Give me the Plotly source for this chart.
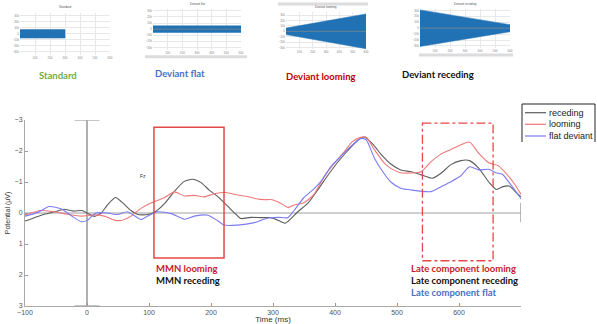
import plotly.graph_objects as go

W, H = 597, 324

# ---------------- main ERP data (Fz) ----------------
t_receding = [-100,-85,-69,-50,-37,-22,-8,0,12,23,33,46,59,71,82,98,110,125,141,157,170,184,197,211,227,240,248,264,280,297,313,320,329,340,356,372,388,404,420,436,447,461,474,490,506,523,539,557,571,587,603,617,632,648,660,671,681,692,700]
v_receding = [0.26,0.15,0.04,-0.05,-0.12,-0.06,-0.08,0,0.11,0,-0.26,-0.5,-0.3,-0.08,0.05,0.05,-0.04,-0.3,-0.7,-1.02,-1.09,-0.98,-0.74,-0.53,-0.22,0.04,0.18,0.14,0.15,0.15,0.28,0.33,0.18,-0.04,-0.31,-0.74,-1.2,-1.63,-2.0,-2.33,-2.45,-2.22,-1.9,-1.58,-1.39,-1.33,-1.23,-1.12,-1.28,-1.56,-1.69,-1.69,-1.44,-1.0,-0.76,-0.85,-0.87,-0.67,-0.52]

t_looming = [-100,-74,-53,-31,-9,12,28,44,55,71,87,103,125,141,157,173,189,205,224,243,259,275,286,299,313,324,334,350,366,382,398,415,428,441,450,464,480,490,506,523,539,555,571,587,603,617,632,648,664,677,689,700]
v_looming = [0.06,-0.08,-0.04,0.04,0.1,0.06,0.1,0.23,0.24,0.1,-0.15,-0.32,-0.5,-0.68,-0.55,-0.57,-0.52,-0.62,-0.66,-0.58,-0.53,-0.45,-0.43,-0.43,-0.31,-0.18,-0.26,-0.33,-0.6,-1.15,-1.58,-1.98,-2.3,-2.44,-2.45,-2.03,-1.6,-1.44,-1.3,-1.29,-1.33,-1.66,-1.9,-2.05,-2.2,-2.29,-1.92,-1.62,-1.52,-1.25,-0.95,-0.6]

t_flat = [-100,-79,-61,-41,-25,-9,1,14,33,49,65,79,87,98,114,136,157,173,195,211,221,243,270,291,308,324,334,350,366,377,393,409,425,441,450,464,480,490,506,523,555,571,587,603,617,632,648,659,670,681,694,700]
v_flat = [0.1,-0.02,-0.21,-0.13,0.09,0.28,0.23,0.0,0.0,0.05,-0.04,0.12,0.21,0.1,-0.04,0.02,0.2,0.1,0.07,0.25,0.39,0.39,0.31,0.17,0.14,0.15,-0.08,-0.5,-0.78,-1.01,-1.49,-1.82,-2.14,-2.4,-2.37,-1.75,-1.25,-1.0,-0.8,-0.74,-0.69,-0.85,-1.01,-1.2,-1.49,-1.39,-1.41,-1.3,-1.25,-0.98,-0.63,-0.45]

series_names = ["receding", "looming", "flat deviant"]
series_colors = ["#5c5c5c", "#f07878", "#7b7bf2"]

x_ticks = [-100, 0, 100, 200, 300, 400, 500, 600]
y_ticks = [-3, -2, -1, 0, 1, 2, 3]

mmn_window = [108, 221]
late_window = [541, 655]

# ---------------- stimulus thumbnails ----------------
thumb_names = ["Standard", "Deviant flat", "Deviant looming", "Deviant receding"]
thumb_label_colors = ["#70ad47", "#4472c4", "#c00000", "#111111"]
thumb_x = [[0, 300, 300, 0], [0, 600, 600, 0], [0, 600, 600, 0], [0, 600, 600, 0]]
thumb_y = [[7000, 7000, -7000, -7000], [5500, 5500, -5500, -5500],
           [6000, 32000, -32000, -6000], [31000, 6000, -6000, -31000]]
thumb_xticks = [100, 200, 300, 400, 500, 600]
thumb_yticks = [-30000, -20000, -10000, 0, 10000, 20000, 30000]


def px(x):
    return x / W


def py(y):
    return 1 - y / H


fig = go.Figure()

for t, v, name, col in zip([t_receding, t_looming, t_flat], [v_receding, v_looming, v_flat],
                           series_names, series_colors):
    fig.add_trace(go.Scatter(x=t, y=v, mode="lines", name=name, showlegend=False,
                             line=dict(color=col, width=1.1, shape="spline", smoothing=0.6),
                             xaxis="x", yaxis="y"))

thumb_dom = [((20, 110), (12.7, 55), (-35000, 35000)),
             ((153, 241), (9.3, 50), (-34000, 32500)),
             ((286, 366), (12.3, 49.3), (-33000, 35000)),
             ((420, 510), (9.3, 47.7), (-33000, 32000))]
thumb_label_pos = [(58, 75), (180, 73), (321, 77), (438, 74)]

layout = dict(
    width=W, height=H, margin=dict(l=0, r=0, t=0, b=0, autoexpand=False),
    paper_bgcolor="white", plot_bgcolor="white",
    font=dict(family="Liberation Sans", color="#444"),
    xaxis=dict(domain=[px(25), px(521)], range=[-100, 700], tickvals=x_ticks, automargin=False,
               showgrid=False, zeroline=False, showline=True, linecolor="#aaa", linewidth=1,
               ticks="inside", ticklen=3, tickcolor="#999", tickfont=dict(size=7, color="#555"),
               title=dict(text="Time (ms)", font=dict(size=8, color="#333"), standoff=0),
               anchor="y"),
    yaxis=dict(domain=[py(306), py(120)], range=[3, -3], tickvals=y_ticks, automargin=False,
               showgrid=False, zeroline=False, showline=True, linecolor="#aaa", linewidth=1,
               ticks="inside", ticklen=3, tickcolor="#999", tickfont=dict(size=7, color="#555"),
               title=dict(text="Potential (µV)", font=dict(size=7, color="#333"), standoff=3),
               anchor="x"),
)

shapes = []
annotations = []

for i in range(4):
    (x0, x1), (y0, y1), yr = thumb_dom[i]
    k = i + 2
    layout[f"xaxis{k}"] = dict(domain=[px(x0), px(x1)], range=[0, 600], tickvals=thumb_xticks,
                              showgrid=True, gridcolor="#e8e8e8", gridwidth=0.5, zeroline=False,
                              showline=False, ticks="", tickfont=dict(size=3, color="#888"),
                              automargin=False, anchor=f"y{k}")
    layout[f"yaxis{k}"] = dict(domain=[py(y1), py(y0)], range=list(yr), tickvals=thumb_yticks,
                              showgrid=True, gridcolor="#e8e8e8", gridwidth=0.5, zeroline=False,
                              showline=False, ticks="", tickfont=dict(size=3, color="#888"),
                              automargin=False, anchor=f"x{k}")
    fig.add_trace(go.Scatter(x=thumb_x[i], y=thumb_y[i], fill="toself", fillcolor="#2172b5",
                             mode="lines", line=dict(color="#2172b5", width=0.5), showlegend=False,
                             xaxis=f"x{k}", yaxis=f"y{k}", hoverinfo="skip"))
    if i > 0:
        fig.add_trace(go.Scatter(x=[0, 600], y=[0, 0], mode="lines",
                                 line=dict(color="#8a8a8a", width=0.7), showlegend=False,
                                 xaxis=f"x{k}", yaxis=f"y{k}", hoverinfo="skip"))
    annotations.append(dict(xref="paper", yref="paper", x=px((x0 + x1) / 2), y=py(y0 - 1.5),
                            text=thumb_names[i], showarrow=False, font=dict(size=3, color="#555"),
                            xanchor="center", yanchor="bottom"))
    lx, ly = thumb_label_pos[i]
    annotations.append(dict(xref="paper", yref="paper", x=px(lx), y=py(ly),
                            xanchor="center", yanchor="middle",
                            text=f"<b>{thumb_names[i]}</b>", showarrow=False,
                            font=dict(family="Lato", size=9.5, color=thumb_label_colors[i])))

for (a, b, y) in [(145, 247, 56.7), (278, 368, 4), (419, 513, 55)]:
    shapes.append(dict(type="line", xref="paper", yref="paper", x0=px(a), x1=px(b),
                       y0=py(y), y1=py(y), line=dict(color="#dcdcdc", width=3)))

shapes += [
    dict(type="line", xref="x", yref="y", x0=0, x1=0, y0=-3, y1=3,
         line=dict(color="#b0b0b0", width=2), layer="below"),
    dict(type="line", xref="x", yref="y", x0=-20, x1=20, y0=-3, y1=-3,
         line=dict(color="#b0b0b0", width=1.5), layer="below"),
    dict(type="line", xref="x", yref="y", x0=-20, x1=20, y0=3, y1=3,
         line=dict(color="#b0b0b0", width=1.5), layer="below"),
    dict(type="line", xref="x", yref="y", x0=-100, x1=700, y0=0, y1=0,
         line=dict(color="#a0a0a0", width=1), layer="below"),
    dict(type="line", xref="x", yref="y", x0=700, x1=700, y0=-0.33, y1=0.3,
         line=dict(color="#a0a0a0", width=1.5), layer="below"),
    dict(type="rect", xref="x", yref="y", x0=mmn_window[0], x1=mmn_window[1], y0=-2.77, y1=1.45,
         line=dict(color="#e54848", width=1.5)),
    dict(type="rect", xref="x", yref="y", x0=late_window[0], x1=late_window[1], y0=-2.9, y1=1.54,
         line=dict(color="#e54848", width=1.3, dash="dashdot")),
]

annotations.append(dict(xref="x", yref="y", x=90, y=-1.2, text="Fz", showarrow=False,
                        xanchor="center", yanchor="middle", font=dict(size=5, color="#333")))

lab_font = "Lato"
for txt, col, ypx in [("MMN looming", "#c8202a", 268), ("MMN receding", "#111111", 280.5)]:
    annotations.append(dict(xref="x", yref="paper", x=mmn_window[0], y=py(ypx),
                            xanchor="left", yanchor="middle",
                            text=f"<b>{txt}</b>", showarrow=False,
                            font=dict(family=lab_font, size=9.5, color=col)))
for txt, col, ypx in [("Late component looming", "#c8202a", 268),
                      ("Late component receding", "#111111", 280),
                      ("Late component flat", "#4472c4", 292)]:
    annotations.append(dict(xref="x", yref="paper", x=519, y=py(ypx),
                            xanchor="left", yanchor="middle",
                            text=f"<b>{txt}</b>", showarrow=False,
                            font=dict(family=lab_font, size=9.5, color=col)))

shapes.append(dict(type="path", xref="paper", yref="paper",
                   path=f"M {px(522)},{py(142)} L {px(522)},{py(104)} L {px(595)},{py(104)} L {px(595)},{py(142)}",
                   line=dict(color="#222", width=1)))
for name, col, ypx in zip(series_names, series_colors, [112.7, 124.3, 136]):
    shapes.append(dict(type="line", xref="paper", yref="paper", x0=px(525), x1=px(546),
                       y0=py(ypx), y1=py(ypx), line=dict(color=col, width=1.2)))
    annotations.append(dict(xref="paper", yref="paper", x=px(547), y=py(ypx),
                            xanchor="left", yanchor="middle",
                            text=name, showarrow=False, font=dict(size=9, color="#222")))

layout["shapes"] = shapes
layout["annotations"] = annotations
fig.update_layout(**layout)
fig.write_html("out.html", config={"displayModeBar": False},
               post_script="document.body.style.margin='0';document.body.style.overflow='hidden';")
